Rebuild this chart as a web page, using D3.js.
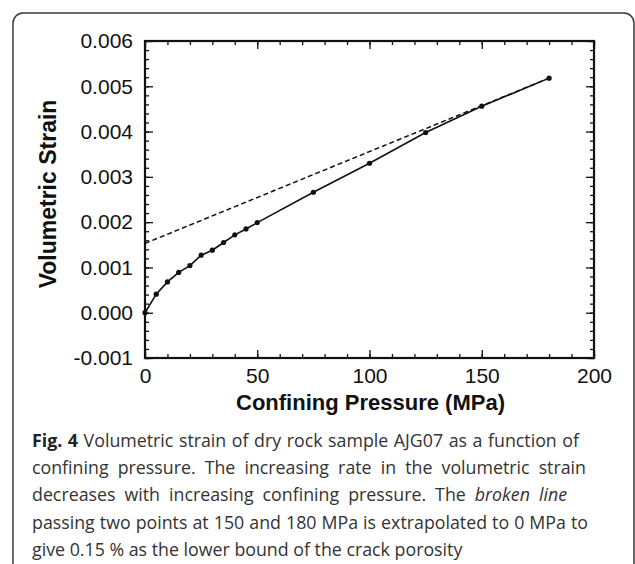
<!DOCTYPE html>
<html>
<head>
<meta charset="utf-8">
<script src="https://cdn.jsdelivr.net/npm/d3@7"></script>
<style>
    body { margin: 0; background: #fff; }
    svg { display: block; }
</style>
</head>
<body>
<div id="the_chart"></div>
<script>
// measured points, sample AJG07 (dry)
var pressure = [0, 5, 10, 15, 20, 25, 30, 35, 40, 45, 50, 75, 100, 125, 150, 180];
var strain = [0, 0.00041, 0.00068, 0.00089, 0.00104, 0.00127, 0.00138, 0.00155, 0.00172, 0.00185, 0.00199, 0.00266, 0.0033, 0.00398, 0.00456, 0.00518];

// broken line through 150 and 180 MPa, extrapolated to 0
var brokenP = [0, 180];
var brokenStrain = [0.00153, 0.00518];

var xTicks = [0, 50, 100, 150, 200];
var xTickLabels = ["0", "50", "100", "150", "200"];
var yTicks = [-0.001, 0, 0.001, 0.002, 0.003, 0.004, 0.005, 0.006];
var yTickLabels = ["-0.001", "0.000", "0.001", "0.002", "0.003", "0.004", "0.005", "0.006"];

var xTitle = "Confining Pressure (MPa)";
var yTitle = "Volumetric Strain";

var captionLines = [
    [["Fig. 4", "bold"], [" Volumetric strain of dry rock sample AJG07 as a function of", "normal"]],
    [["confining pressure. The increasing rate in the volumetric strain", "normal"]],
    [["decreases with increasing confining pressure. The ", "normal"], ["broken line", "italic"]],
    [["passing two points at 150 and 180 MPa is extrapolated to 0 MPa to", "normal"]],
    [["give 0.15 % as the lower bound of the crack porosity", "normal"]]
];

gen_vis();

function gen_vis() {
    var w = 635;
    var h = 564;
    var left = 145, right = 594, top = 41, bottom = 358;

    var xscale = d3.scaleLinear()
        .domain([0, 200])
        .range([left, right]);
    var yscale = d3.scaleLinear()
        .domain([-0.001, 0.006])
        .range([bottom, top]);

    var svg = d3.select("#the_chart").append("svg")
        .attr("width", w)
        .attr("height", h);

    // figure box, open at the bottom of the crop
    svg.append("rect")
        .attr("x", 13)
        .attr("y", 13)
        .attr("width", 621)
        .attr("height", 620)
        .attr("rx", 10)
        .attr("fill", "none")
        .attr("stroke", "#3a3a3a")
        .attr("stroke-width", 1.5);

    var minorX = d3.range(0, 201, 10);
    var minorY = d3.range(-10, 61, 2).map(function(d) { return d / 10000; });

    // ticks on all four sides, pointing inward
    function addAxis(axis, transform) {
        svg.append("g")
            .attr("class", "axis")
            .attr("transform", transform)
            .call(axis);
    }
    addAxis(d3.axisBottom(xscale).tickValues(minorX).tickSize(-4).tickSizeOuter(0).tickFormat(""), "translate(0," + bottom + ")");
    addAxis(d3.axisBottom(xscale).tickValues(xTicks).tickSize(-8).tickSizeOuter(0)
        .tickFormat(function(d, i) { return xTickLabels[i]; }).tickPadding(10), "translate(0," + bottom + ")");
    addAxis(d3.axisTop(xscale).tickValues(minorX).tickSize(-4).tickSizeOuter(0).tickFormat(""), "translate(0," + top + ")");
    addAxis(d3.axisTop(xscale).tickValues(xTicks).tickSize(-8).tickSizeOuter(0).tickFormat(""), "translate(0," + top + ")");
    addAxis(d3.axisLeft(yscale).tickValues(minorY).tickSize(-4).tickSizeOuter(0).tickFormat(""), "translate(" + left + ",0)");
    addAxis(d3.axisLeft(yscale).tickValues(yTicks).tickSize(-8).tickSizeOuter(0)
        .tickFormat(function(d, i) { return yTickLabels[i]; }).tickPadding(12), "translate(" + left + ",0)");
    addAxis(d3.axisRight(yscale).tickValues(minorY).tickSize(-4).tickSizeOuter(0).tickFormat(""), "translate(" + right + ",0)");
    addAxis(d3.axisRight(yscale).tickValues(yTicks).tickSize(-8).tickSizeOuter(0).tickFormat(""), "translate(" + right + ",0)");

    svg.selectAll(".axis path").remove();
    svg.selectAll(".axis line")
        .attr("stroke", "#111")
        .attr("stroke-width", 1.3);
    svg.selectAll(".axis text")
        .attr("fill", "#111")
        .style("font-family", "'Liberation Sans', Arial, sans-serif")
        .style("font-size", "21px");

    // plot frame
    svg.append("rect")
        .attr("x", left)
        .attr("y", top)
        .attr("width", right - left)
        .attr("height", bottom - top)
        .attr("fill", "none")
        .attr("stroke", "#111")
        .attr("stroke-width", 2.2);

    var pts = pressure.map(function(p, i) { return {p: p, s: strain[i]}; });
    var line = d3.line()
        .x(function(d) { return xscale(d.p); })
        .y(function(d) { return yscale(d.s); });

    var broken = brokenP.map(function(p, i) { return {p: p, s: brokenStrain[i]}; });
    svg.append("path")
        .datum(broken)
        .attr("d", line)
        .attr("fill", "none")
        .attr("stroke", "#111")
        .attr("stroke-width", 1.5)
        .attr("stroke-dasharray", "5,3");

    svg.append("path")
        .datum(pts)
        .attr("d", line)
        .attr("fill", "none")
        .attr("stroke", "#111")
        .attr("stroke-width", 1.6);

    svg.selectAll("circle")
        .data(pts)
        .enter().append("circle")
        .attr("cx", function(d) { return xscale(d.p); })
        .attr("cy", function(d) { return yscale(d.s); })
        .attr("r", 2.6)
        .attr("fill", "#111");

    svg.append("text")
        .attr("x", (left + right) / 2 + 1)
        .attr("y", 410)
        .attr("text-anchor", "middle")
        .style("font-family", "'Liberation Sans', Arial, sans-serif")
        .style("font-size", "22px")
        .style("font-weight", "bold")
        .attr("fill", "#111")
        .text(xTitle);

    svg.append("text")
        .attr("transform", "translate(56,194) rotate(-90)")
        .attr("text-anchor", "middle")
        .style("font-family", "'Liberation Sans', Arial, sans-serif")
        .style("font-size", "23px")
        .style("font-weight", "bold")
        .attr("fill", "#111")
        .text(yTitle);

    // caption, justified like the journal layout (last line ragged)
    var capRight = [579, 586, 567, 588, null];
    captionLines.forEach(function(segs, i) {
        var t = svg.append("text")
            .attr("x", 32)
            .attr("y", 446.5 + i * 27.4)
            .attr("fill", "#333")
            .style("font-family", "'Open Sans', 'Noto Sans', sans-serif")
            .style("font-size", "17.8px");
        segs.forEach(function(s) {
            var ts = t.append("tspan").text(s[0]);
            if (s[1] == "bold") ts.style("font-weight", "bold").attr("fill", "#222");
            if (s[1] == "italic") ts.style("font-style", "italic");
        });
        if (capRight[i] != null) {
            var natural = t.node().getComputedTextLength();
            var txt = segs.map(function(s) { return s[0]; }).join("");
            var spaces = txt.split(" ").length - 1;
            var extra = (capRight[i] - 32 - natural) / spaces;
            t.attr("word-spacing", extra);
        }
    });
}
</script>
</body>
</html>
